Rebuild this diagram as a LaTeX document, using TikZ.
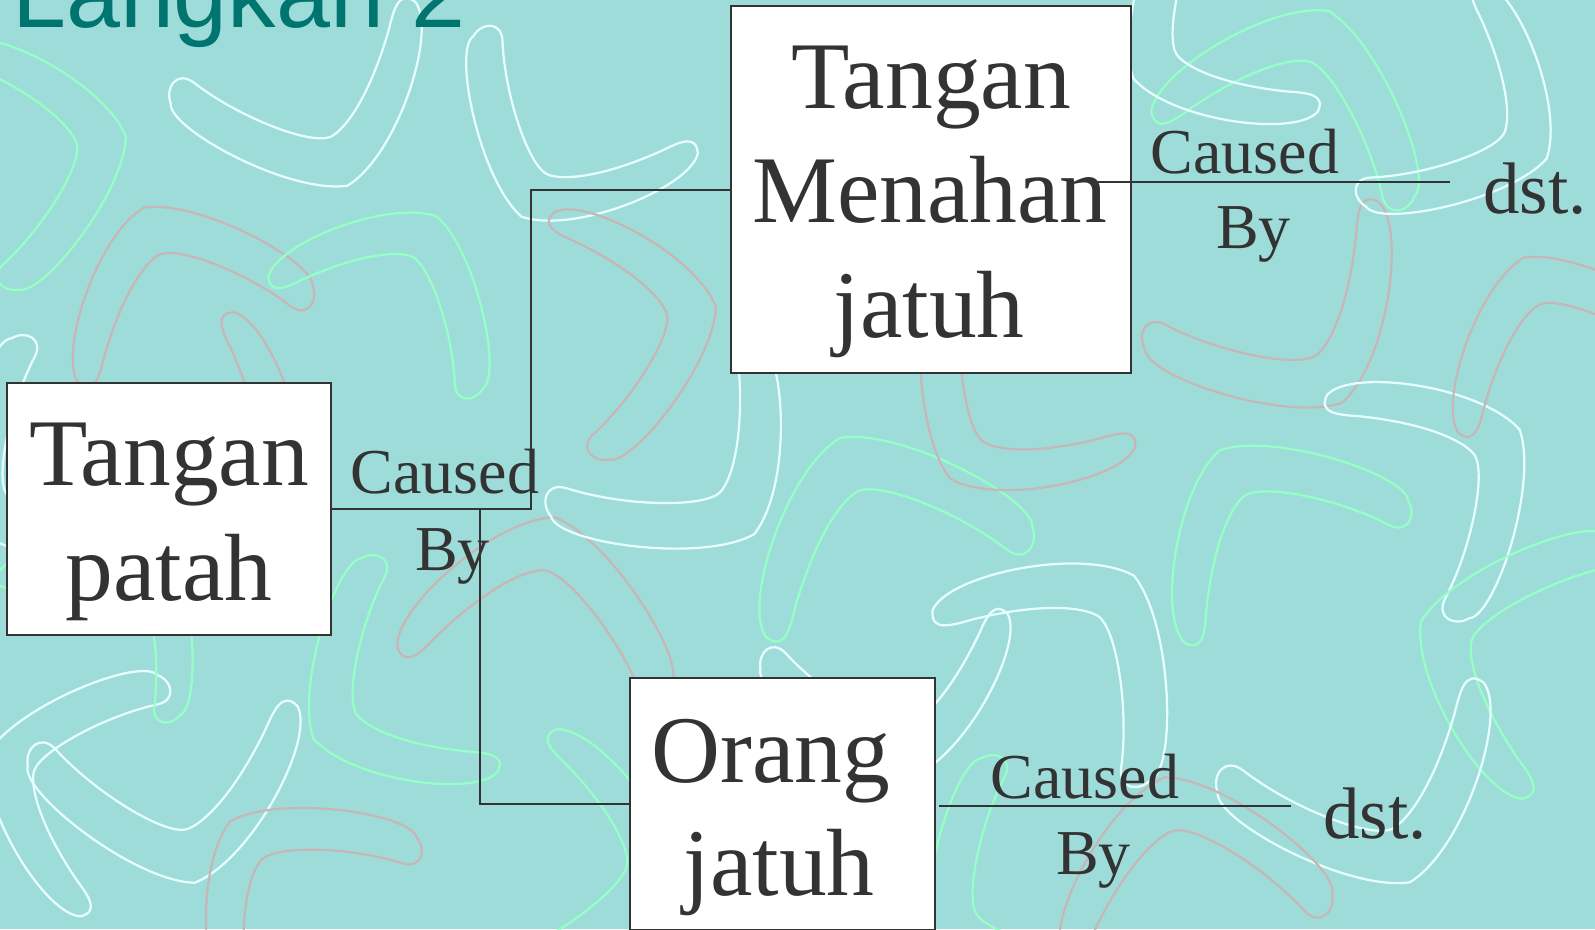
\documentclass[tikz,border=0pt]{standalone}
\usepackage{fontspec}
\setmainfont{Liberation Serif}
\newfontfamily\titlefont{Liberation Sans}
\definecolor{bgc}{RGB}{158,220,218}
\definecolor{bw}{RGB}{232,255,255}
\definecolor{bg}{RGB}{150,255,195}
\definecolor{bp}{RGB}{200,182,182}
\definecolor{ink}{RGB}{51,51,51}
\definecolor{teal}{RGB}{0,117,112}
\tikzset{
  boomer/.pic={
    \draw[pic actions] (-1.2,-0.5) .. controls (-1.3,-0.3) and (-0.5,0.6) .. (0,0.7)
      .. controls (0.5,0.6) and (1.2,-0.3) .. (1.1,-0.6)
      .. controls (1.0,-0.75) and (0.9,-0.6) .. (0.8,-0.45)
      .. controls (0.4,0.1) and (0.1,0.25) .. (0,0.25)
      .. controls (-0.2,0.25) and (-0.7,-0.2) .. (-0.95,-0.6)
      .. controls (-1.05,-0.75) and (-1.2,-0.65) .. (-1.2,-0.5) -- cycle;
  },
  box/.style={draw=ink, fill=white, line width=2pt, rectangle, inner sep=0pt},
  boxtext/.style={text=ink, inner sep=0pt, anchor=base, font=\fontsize{95.5}{115}\selectfont},
  lbl/.style={text=ink, inner sep=0pt, anchor=base, font=\fontsize{64}{75}\selectfont},
  dsttext/.style={text=ink, inner sep=0pt, anchor=base, font=\fontsize{73}{85}\selectfont},
  conn/.style={draw=ink, line width=2pt},
}
\begin{document}
\begin{tikzpicture}[x=1pt,y=-1pt]
\useasboundingbox (0,0) rectangle (1595,929);
\fill[bgc] (0,0) rectangle (1595,929);
\begin{scope}
\clip (0,0) rectangle (1595,929);
\foreach \x/\y/\r/\s/\c in {
  320/110/20/115/bw, 170/280/200/110/bp, 400/280/150/105/bg, 230/450/60/110/bp,
  560/150/-30/110/bw, 640/320/100/110/bp, 180/800/10/120/bw, 60/780/250/110/bw,
  380/700/300/110/bg, 540/600/170/120/bp, 700/470/40/120/bw, 870/520/200/125/bg,
  1000/420/320/110/bp, 1080/640/140/120/bw, 1260/520/210/115/bg, 1300/330/30/120/bp,
  1450/470/120/115/bw, 1500/650/250/120/bg, 1380/800/20/125/bw, 1180/860/190/120/bp,
  1300/90/160/120/bg, 1480/120/60/110/bw, 1200/40/300/110/bw, 600/860/80/110/bg,
  280/880/220/110/bp, 900/700/10/110/bw, 50/150/100/110/bg, 30/480/300/110/bw,
  1550/330/200/110/bp, 1000/900/300/110/bg, 860/120/250/110/bw, 120/600/140/100/bg}
  {\pic[draw=\c, line width=2.2pt, rotate=\r, scale=\s] at (\x,\y) {boomer};}
\end{scope}

\node[anchor=base west, inner sep=0pt, text=teal, font=\titlefont\fontsize{97}{110}\selectfont] (title) at (12,27) {Langkah 2};

% boxes
\node[box, minimum width=324pt, minimum height=252pt] (A) at (169,509) {};
\node[box, minimum width=400pt, minimum height=367pt] (B) at (931,189.5) {};
\node[box, minimum width=305pt, minimum height=252pt] (C) at (782.5,804) {};

\node[boxtext] (A1) at (169,485) {Tangan};
\node[boxtext] (A2) at (169,600) {patah};
\node[boxtext] (B1) at (931,108) {Tangan};
\node[boxtext] (B2) at (930,222) {Menahan};
\node[boxtext] (B3) at (929,337) {jatuh};
\node[boxtext] (C1) at (771,782) {Orang};
\node[boxtext] (C2) at (779,895) {jatuh};

% connectors
\coordinate (k1) at (531,509);
\coordinate (k2) at (480,509);
\draw[conn] (A.east) -- (k1) |- (B.west);
\draw[conn] (k2) |- (C.west);
\coordinate (m1) at (1098,182);
\coordinate (m2) at (1450,182);
\draw[conn] (m1) -- (m2);
\coordinate (n1) at (939,806);
\coordinate (n2) at (1291,806);
\draw[conn] (n1) -- (n2);

% labels
\node[lbl] (c1) at (445,493) {Caused};
\node[lbl] (b1) at (452.5,570) {By};
\node[lbl] (c2) at (1245,173) {Caused};
\node[lbl] (b2) at (1253.5,248) {By};
\node[dsttext] (d2) at (1535,213) {dst.};
\node[lbl] (c3) at (1085,798) {Caused};
\node[lbl] (b3) at (1093.5,874) {By};
\node[dsttext] (d3) at (1375,838) {dst.};
\end{tikzpicture}
\end{document}
